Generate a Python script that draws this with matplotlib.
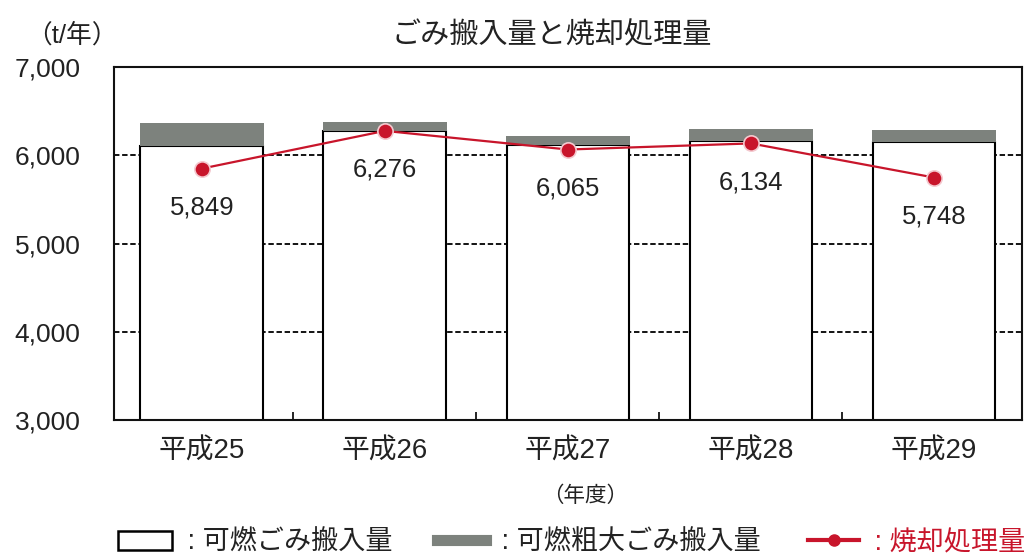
import matplotlib
matplotlib.use("Agg")
import matplotlib.pyplot as plt
from matplotlib.patches import Patch
from matplotlib.lines import Line2D
from matplotlib import font_manager
import numpy as np

# ---- data ----
years = ["平成25", "平成26", "平成27", "平成28", "平成29"]
combustible = [6100, 6270, 6115, 6160, 6150]        # 可燃ごみ搬入量
bulky = [265, 110, 100, 135, 135]                   # 可燃粗大ごみ搬入量
incinerated = [5849, 6276, 6065, 6134, 5748]        # 焼却処理量
y_ticks = [3000, 4000, 5000, 6000, 7000]

names = {f.name for f in font_manager.fontManager.ttflist}
latin = "Liberation Sans Narrow" if "Liberation Sans Narrow" in names else "Liberation Sans"
plt.rcParams["font.family"] = [latin, "Noto Sans CJK JP", "DejaVu Sans"]
plt.rcParams["axes.linewidth"] = 1.5

RED = "#c8152b"
GRAY = "#7d827d"
TXT = "#222222"

fig = plt.figure(figsize=(10.26, 5.58), dpi=100)
ax = fig.add_axes([0.111, 0.247, 0.885, 0.633])

x = np.arange(len(years))
w = 0.67

ax.set_axisbelow(True)
ax.yaxis.grid(True, color="black", linestyle=(0, (3, 1.5)), linewidth=1.3)

ax.bar(x, combustible, width=w, bottom=0, color="white", edgecolor="black",
       linewidth=1.5, zorder=2)
ax.bar(x, bulky, width=w + 0.008, bottom=combustible, color=GRAY,
       edgecolor="none", zorder=3)

ax.plot(x, incinerated, color=RED, linewidth=1.6, marker="o", markersize=11,
        markerfacecolor=RED, markeredgecolor="#f4c9cf", markeredgewidth=1.2,
        zorder=5)
for xi, v in zip(x, incinerated):
    ax.annotate(f"{v:,}", (xi, v), xytext=(0, -28), textcoords="offset points",
                ha="center", va="center", fontsize=18.5, color=TXT, zorder=6)

ax.set_xlim(-0.48, len(years) - 0.52)
ax.set_ylim(3000, 7000)
ax.set_yticks(y_ticks)
ax.set_yticklabels([f"{t:,}" for t in y_ticks], fontsize=19, color=TXT)
ax.tick_params(axis="y", length=0, pad=24)

ax.set_xticks(x)
ax.set_xticklabels(years, fontsize=20, color=TXT)
ax.tick_params(axis="x", which="major", length=0, pad=13)
ax.set_xticks(x[:-1] + 0.5, minor=True)
ax.tick_params(axis="x", which="minor", direction="in", length=6, width=1.2)

for s in ax.spines.values():
    s.set_color("#111111")

fig.text(0.538, 0.937, "ごみ搬入量と焼却処理量", ha="center", va="center",
         fontsize=21, color=TXT)
fig.text(0.070, 0.937, "（t/年）", ha="center", va="center", fontsize=18.5, color=TXT)
fig.text(0.570, 0.110, "（年度）", ha="center", va="center", fontsize=15.5, color=TXT)

# legend: one entry per block so each key can have its own length
entries = [
    (Patch(facecolor="white", edgecolor="black", linewidth=1.8),
     " : 可燃ごみ搬入量", TXT, 0.115, 2.0),
    (Line2D([0], [0], color=GRAY, linewidth=8),
     " : 可燃粗大ごみ搬入量", TXT, 0.426, 1.8),
    (Line2D([0], [0], color=RED, linewidth=3, marker="o", markersize=8,
            markerfacecolor=RED, markeredgecolor=RED),
     " : 焼却処理量", RED, 0.788, 1.85),
]
for handle, label, color, xpos, hl in entries:
    leg = fig.legend([handle], [label], loc="center left",
                     bbox_to_anchor=(xpos, 0.027), frameon=False, fontsize=19.5,
                     handlelength=hl, handletextpad=0.3, borderpad=0.0,
                     borderaxespad=0.0)
    leg.get_texts()[0].set_color(color)

fig.savefig("out.png", dpi=100, facecolor="white")
